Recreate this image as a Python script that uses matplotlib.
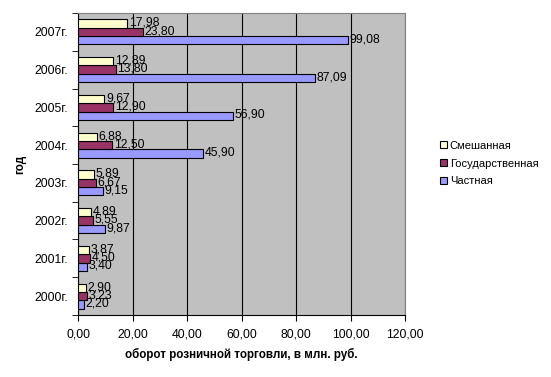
import numpy as np
import matplotlib
matplotlib.use('Agg')
from matplotlib import pyplot as plt

plt.rcParams['font.family'] = ['Liberation Sans', 'DejaVu Sans']

years = ['2000г.', '2001г.', '2002г.', '2003г.', '2004г.', '2005г.', '2006г.', '2007г.']
private = [2.20, 3.40, 9.87, 9.15, 45.90, 56.90, 87.09, 99.08]
state = [3.23, 4.50, 5.55, 6.67, 12.50, 12.90, 13.80, 23.80]
mixed = [2.90, 3.87, 4.89, 5.89, 6.88, 9.67, 12.89, 17.98]
xticks = [0, 20, 40, 60, 80, 100, 120]

series = [('Частная', private, '#9999FF'),
          ('Государственная', state, '#993366'),
          ('Смешанная', mixed, '#FFFFCC')]

fs = 8.8

fig = plt.figure(figsize=(5.51, 3.77), dpi=100)
ax = fig.add_axes([0.1416, 0.1645, 0.5935, 0.801])
ax.set_facecolor('#C0C0C0')

y = np.arange(len(years))
h = 0.22
handles = []
for i, (name, vals, col) in enumerate(series):
    pos = y + (i - 1) * h
    b = ax.barh(pos, vals, height=h, color=col, edgecolor='black', linewidth=0.8, label=name, zorder=3)
    handles.append(b)
    for p, v in zip(pos, vals):
        ax.text(v + 0.6, p + 0.02, f'{v:.2f}'.replace('.', ','), va='center', ha='left', fontsize=fs, zorder=4)

ax.set_xlim(0, 120)
ax.set_ylim(-0.5, len(years) - 0.5)
ax.set_xticks(xticks)
ax.set_xticklabels([f'{v:.2f}'.replace('.', ',') for v in xticks], fontsize=fs)
ax.set_yticks(y)
ax.set_yticklabels(years, fontsize=fs)
ax.set_yticks(np.arange(-0.5, len(years)), minor=True)
ax.tick_params(axis='y', which='major', length=0, pad=7)
ax.tick_params(axis='y', which='minor', length=4, direction='out')
ax.tick_params(axis='x', length=4, direction='out', pad=6)
ax.grid(axis='x', color='black', linewidth=0.8, zorder=1)
for s in ['top', 'right']:
    ax.spines[s].set_color('#808080')
ax.set_xlabel('оборот розничной торговли, в млн. руб.', fontsize=8.4, fontweight='bold', labelpad=5)
ax.set_ylabel('год', fontsize=8.4, fontweight='bold', labelpad=6)

fig.legend(handles[::-1], [s[0] for s in series][::-1], loc='center left', bbox_to_anchor=(0.799, 0.566),
           frameon=False, fontsize=8, handlelength=0.6, handleheight=0.6, handletextpad=0.25,
           labelspacing=0.7, borderpad=0, borderaxespad=0)

fig.savefig('out.png', dpi=100)
